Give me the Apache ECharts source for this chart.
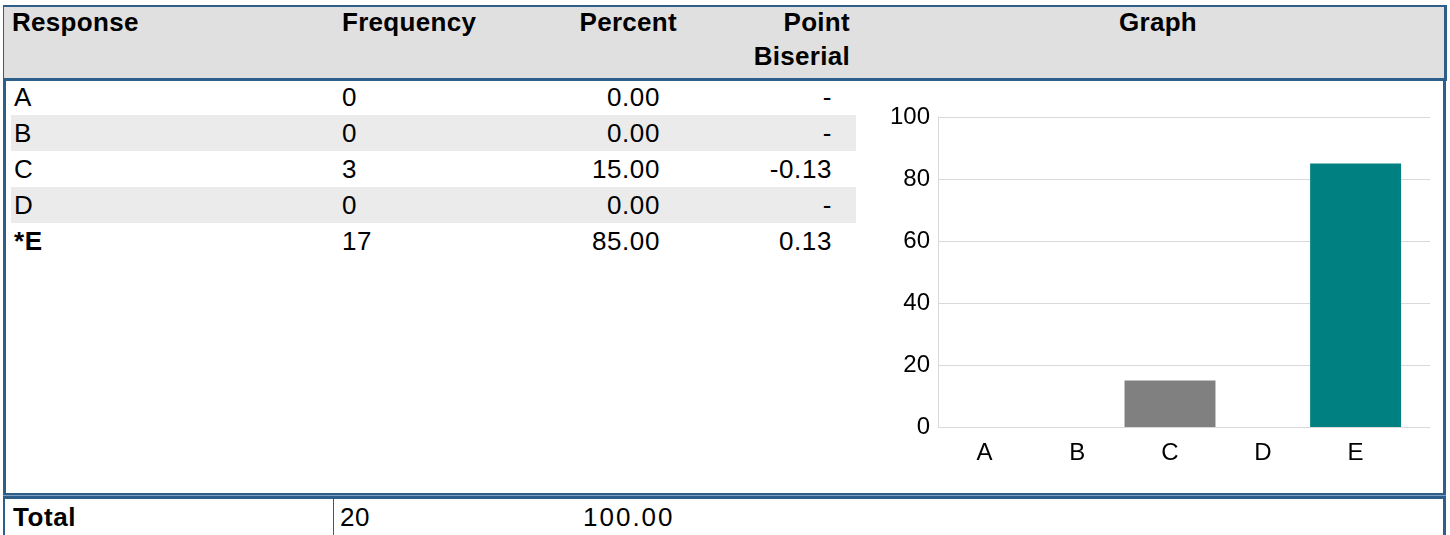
<!DOCTYPE html>
<html>
<head>
<meta charset="utf-8">
<script src="https://cdn.jsdelivr.net/npm/echarts@6/dist/echarts.min.js"></script>
<style>
  body { margin: 0; width: 1450px; height: 535px; background: #fff; overflow: hidden;
         font-family: "Liberation Sans", Arial, sans-serif; color: #000; }
  .abs { position: absolute; }
  .hdr { background: #e0e0e0; left: 3px; top: 5px; width: 1440px; height: 71px;
         border-top: 2px solid #2e5f8a; border-left: 1px solid #2e5f8a; border-right: 3px solid #2e5f8a;
         border-bottom: 3px solid #2e5f8a; }
  .th { position: absolute; font-weight: bold; font-size: 26px; line-height: 34px; top: -2px; letter-spacing: 0.3px; }
  .body { left: 3px; top: 79px; width: 1437px; height: 414px;
          border-left: 3px solid #2e5f8a; border-right: 3px solid #2e5f8a; }
  .row { position: absolute; left: 5px; width: 845px; height: 36px; }
  .row.alt { background: #ebebeb; }
  .td { position: absolute; font-size: 26px; line-height: 36px; top: 0; letter-spacing: 0.6px; }
  .dbl { left: 3px; top: 493px; width: 1443px; height: 6px; background: #2e5f8a; }
  .dbl2 { left: 3px; top: 495px; width: 1443px; height: 1px; background: #7f9fbf; }
  .tot { left: 3px; top: 499px; width: 1438px; height: 36px;
         border-left: 2px solid #2e5f8a; border-right: 3px solid #2e5f8a; }
  #chart { position: absolute; left: 860px; top: 90px; width: 580px; height: 390px; }
</style>
</head>
<body>
<div id="page"></div>
<div id="chart"></div>
<script>
// table data
var responses = ['A', 'B', 'C', 'D', '*E'];
var frequency = [0, 0, 3, 0, 17];
var percent = ['0.00', '0.00', '15.00', '0.00', '85.00'];
var pointBiserial = ['-', '-', '-0.13', '-', '0.13'];
var totalFreq = 20;
var totalPercent = '100.00';

// chart data
var categories = ['A', 'B', 'C', 'D', 'E'];
var values = [0, 0, 15, 0, 85];
var keyAnswer = 'E';
var yTicks = [0, 20, 40, 60, 80, 100];

var html = '';
html += '<div class="abs hdr">' +
  '<div class="th" style="left:8px">Response</div>' +
  '<div class="th" style="left:338px">Frequency</div>' +
  '<div class="th" style="right:767px;text-align:right">Percent</div>' +
  '<div class="th" style="right:594px;text-align:right">Point<br>Biserial</div>' +
  '<div class="th" style="left:1054px;width:200px;text-align:center">Graph</div>' +
  '</div>';
html += '<div class="abs body">';
for (var i = 0; i < responses.length; i++) {
  var bold = responses[i].charAt(0) === '*' ? 'font-weight:bold;' : '';
  html += '<div class="row' + (i % 2 === 1 ? ' alt' : '') + '" style="top:' + (i * 36) + 'px">' +
    '<div class="td" style="left:3px;' + bold + '">' + responses[i] + '</div>' +
    '<div class="td" style="left:331px">' + frequency[i] + '</div>' +
    '<div class="td" style="right:196px">' + percent[i] + '</div>' +
    '<div class="td" style="right:24px">' + pointBiserial[i] + '</div>' +
    '</div>';
}
html += '</div>';
html += '<div class="abs dbl"></div><div class="abs dbl2"></div>';
html += '<div class="abs tot">' +
  '<div class="td" style="left:8px;font-weight:bold">Total</div>' +
  '<div class="abs" style="left:328px;top:0;width:1px;height:36px;background:#2e5f8a"></div>' +
  '<div class="td" style="left:335px">' + totalFreq + '</div>' +
  '<div class="td" style="left:578px;letter-spacing:2px">' + totalPercent + '</div>' +
  '</div>';
document.getElementById('page').innerHTML = html;

var chart = echarts.init(document.getElementById('chart'));
var labelFont = { color: '#000', fontSize: 24, fontFamily: 'Liberation Sans' };
chart.setOption({
  animation: false,
  grid: [
    // gridlines run a little past the last bar
    { left: 78, top: 27, width: 492, height: 310 },
    { left: 78, top: 27, width: 464, height: 310 }
  ],
  xAxis: [
    { gridIndex: 0, type: 'value', show: false },
    {
      gridIndex: 1,
      type: 'category',
      data: categories,
      axisLine: { show: false },
      axisTick: { show: false },
      axisLabel: Object.assign({ margin: 14 }, labelFont)
    }
  ],
  yAxis: [
    {
      gridIndex: 0,
      type: 'value',
      min: yTicks[0],
      max: yTicks[yTicks.length - 1],
      interval: 20,
      axisLine: { show: true, lineStyle: { color: '#d9d9d9' } },
      axisTick: { show: false },
      splitLine: { lineStyle: { color: '#d9d9d9' } },
      axisLabel: Object.assign({ margin: 8 }, labelFont)
    },
    {
      gridIndex: 1,
      type: 'value',
      min: yTicks[0],
      max: yTicks[yTicks.length - 1],
      show: false,
      splitLine: { show: false }
    }
  ],
  series: [{
    type: 'bar',
    xAxisIndex: 1,
    yAxisIndex: 1,
    barCategoryGap: '2%',
    data: values.map(function (v, i) {
      return { value: v, itemStyle: { color: categories[i] === keyAnswer ? '#008080' : '#808080' } };
    })
  }]
});
</script>
</body>
</html>
